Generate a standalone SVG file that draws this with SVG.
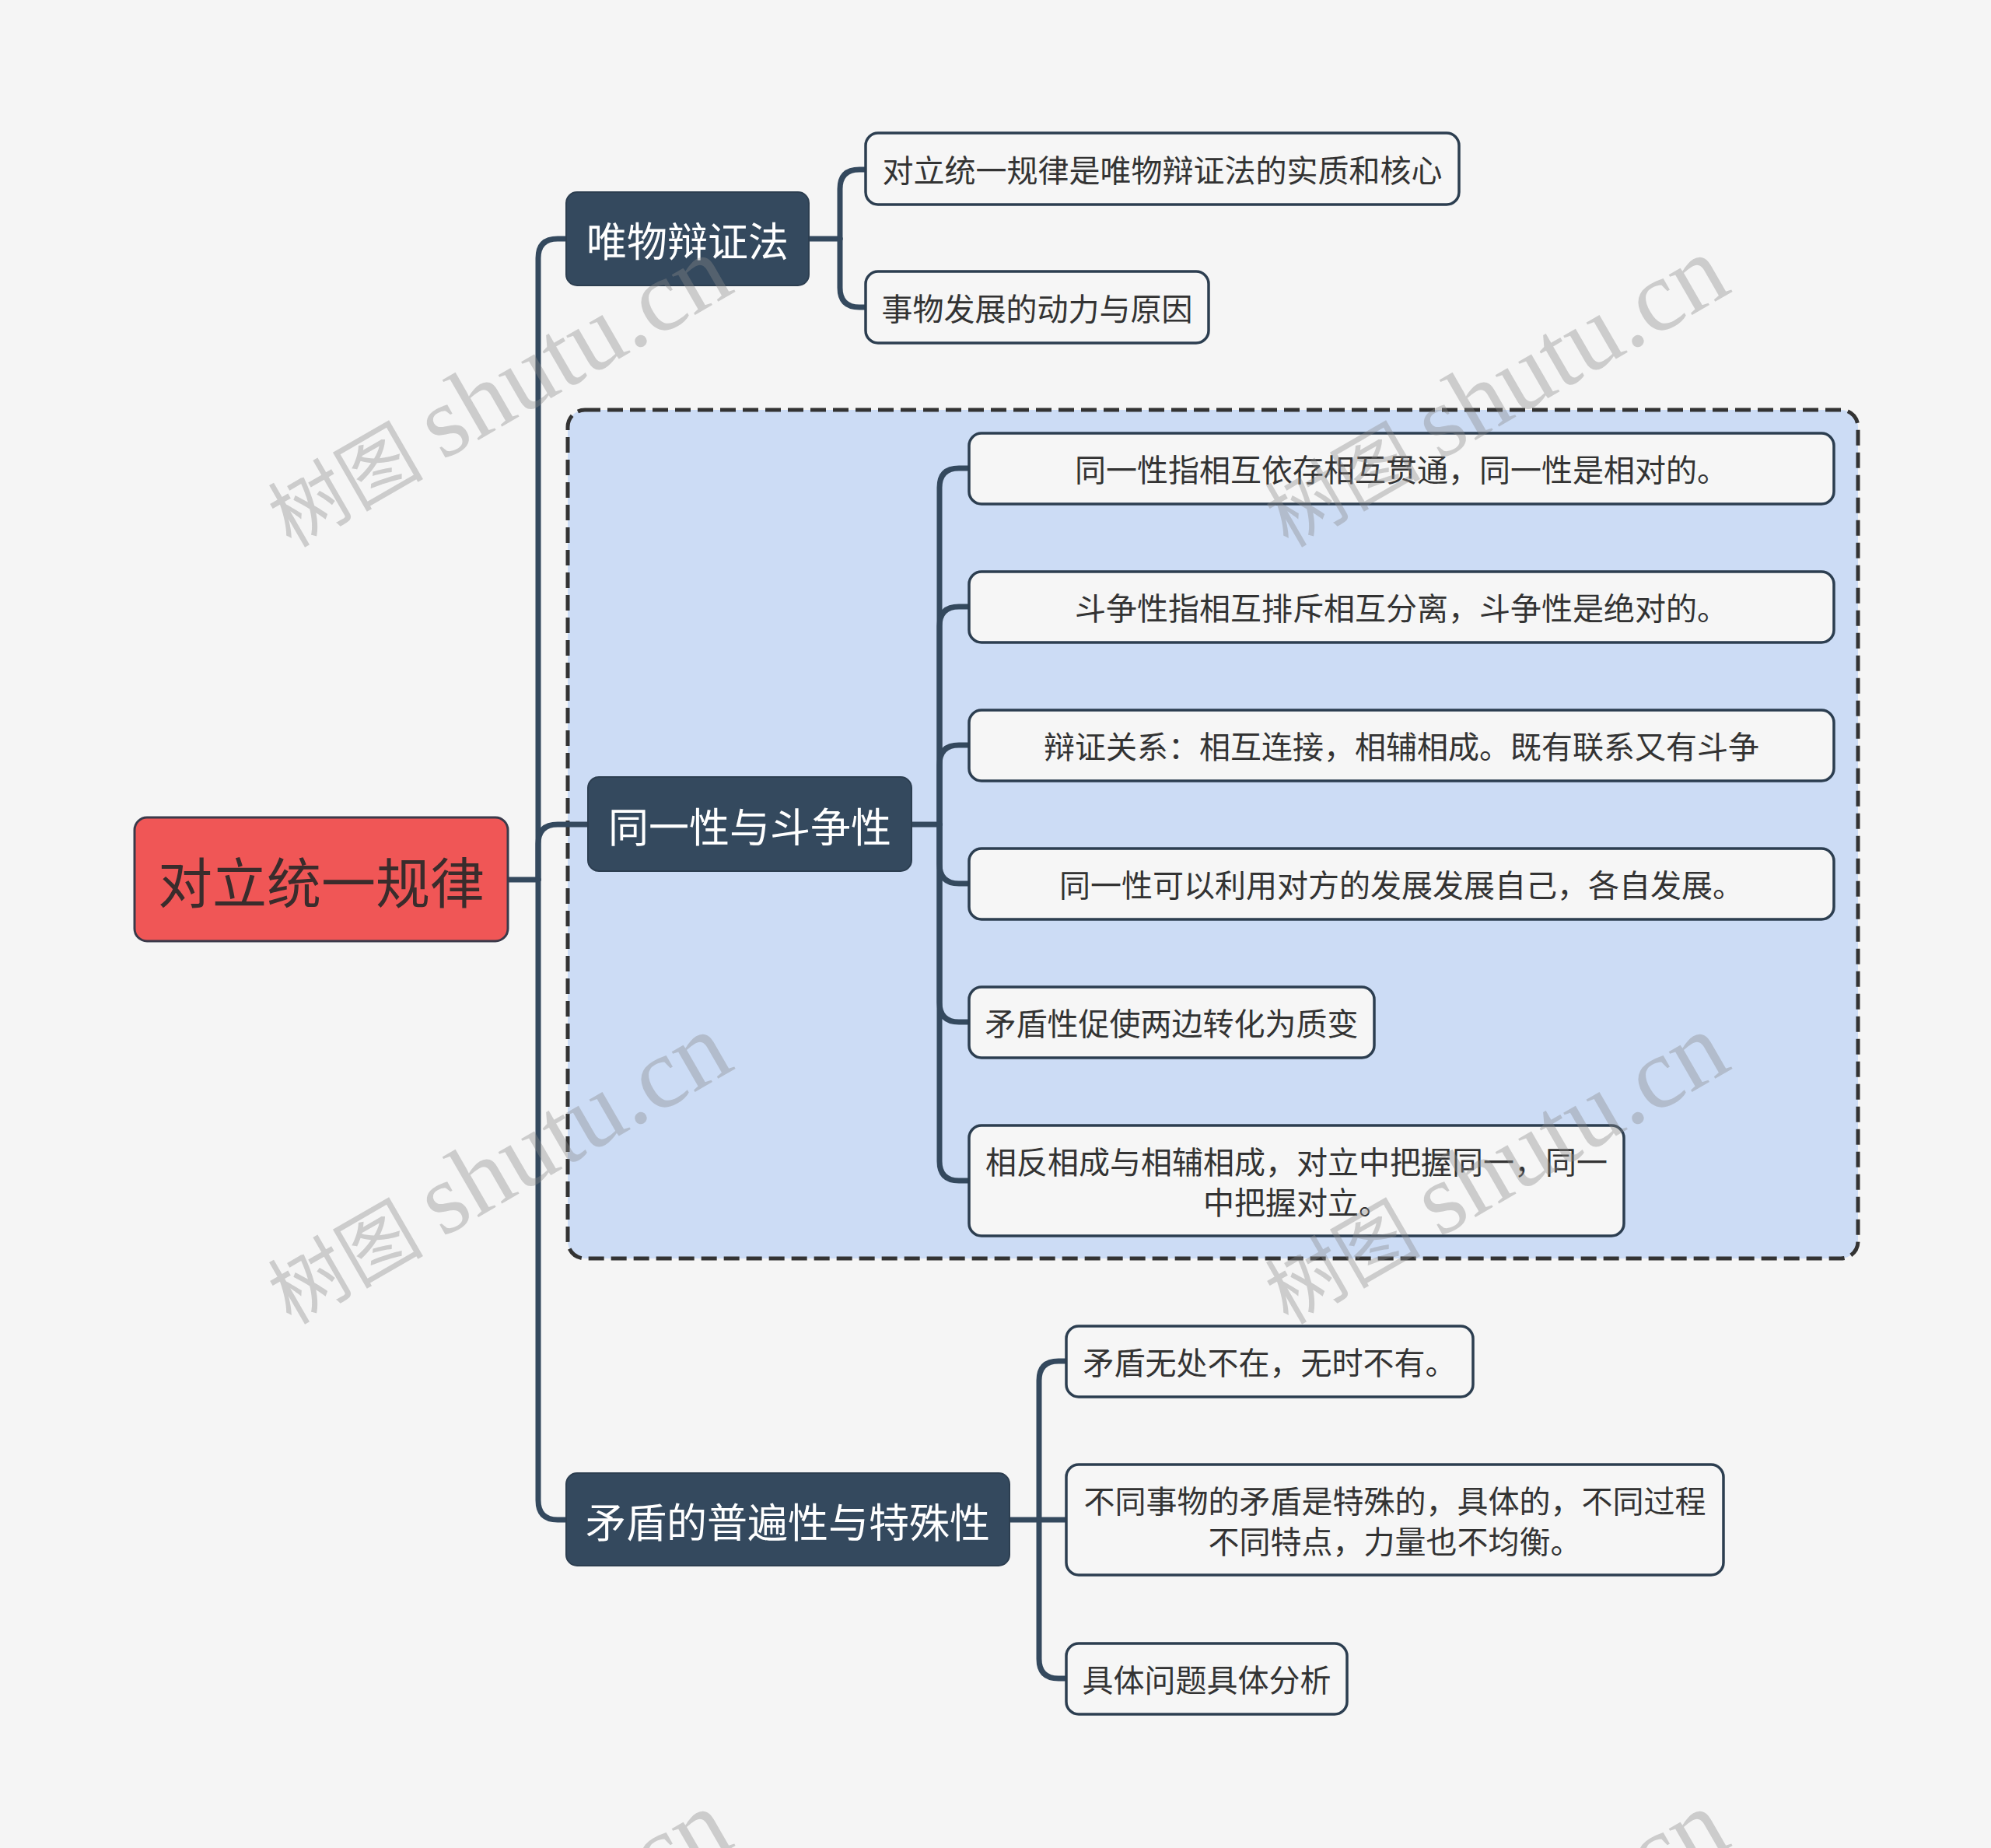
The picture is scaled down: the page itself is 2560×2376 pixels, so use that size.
<svg xmlns="http://www.w3.org/2000/svg" width="2560" height="2376" viewBox="0 0 2560 2376">
<style>
.bg{fill:#f5f5f5}
.conn{fill:none;stroke:#34495e;stroke-width:7;stroke-linecap:round;stroke-linejoin:round}
.root{fill:#f05656;stroke:#3a3a4a;stroke-width:3}
.l1{fill:#34495e;stroke:#2c3e50;stroke-width:2}
.leaf{fill:#f6f6f6;stroke:#2c3e50;stroke-width:3.5}
.group{fill:#ccdcf5;stroke:#333333;stroke-width:5;stroke-dasharray:20 9}
text{font-family:"Noto Sans CJK SC","Noto Sans",sans-serif;text-anchor:middle;dominant-baseline:central}
.troot{font-size:70px;fill:#3a2c2c}
.tl1{font-size:52px;fill:#ffffff}
.tleaf{font-size:40px;fill:#333333}
.wm{font-family:"Liberation Serif","Noto Sans CJK SC",serif;font-size:100px;fill:#8a8a8a;fill-opacity:0.38;text-anchor:start;dominant-baseline:alphabetic}
</style>
<rect class="bg" x="0" y="0" width="2560" height="2376"/>

<g id="group-box">
<rect class="group" x="730" y="527" width="1659" height="1091" rx="22"/>
</g>

<g id="connectors">
<path class="conn" d="M653 1131 H692"/>
<path class="conn" d="M692 1131 V332 Q692 307 717 307 H728"/>
<path class="conn" d="M692 1131 V1085 Q692 1060 717 1060 H756"/>
<path class="conn" d="M692 1131 V1929 Q692 1954 717 1954 H728"/>

<path class="conn" d="M1040 307 H1080"/>
<path class="conn" d="M1080 307 V243 Q1080 218 1105 218 H1113"/>
<path class="conn" d="M1080 307 V370 Q1080 395 1105 395 H1113"/>

<path class="conn" d="M1172 1060 H1208"/>
<path class="conn" d="M1208 1060 V627 Q1208 602 1233 602 H1246"/>
<path class="conn" d="M1208 1060 V805 Q1208 780 1233 780 H1246"/>
<path class="conn" d="M1208 1060 V983 Q1208 958 1233 958 H1246"/>
<path class="conn" d="M1208 1060 V1111 Q1208 1136 1233 1136 H1246"/>
<path class="conn" d="M1208 1060 V1289 Q1208 1314 1233 1314 H1246"/>
<path class="conn" d="M1208 1060 V1493 Q1208 1518 1233 1518 H1246"/>

<path class="conn" d="M1298 1954 H1371"/>
<path class="conn" d="M1336 1954 V1775 Q1336 1750 1361 1750 H1371"/>
<path class="conn" d="M1336 1954 V2133 Q1336 2158 1361 2158 H1371"/>
</g>

<g id="root">
<rect class="root" x="173" y="1051" width="480" height="159" rx="16"/>
<text class="troot" x="413" y="1131">对立统一规律</text>
</g>

<g id="n-weiwu">
<rect class="l1" x="728" y="247" width="312" height="120" rx="14"/>
<text class="tl1" x="884" y="307">唯物辩证法</text>
</g>
<g id="n-tongyi">
<rect class="l1" x="756" y="999" width="416" height="121" rx="14"/>
<text class="tl1" x="964" y="1060">同一性与斗争性</text>
</g>
<g id="n-maodun">
<rect class="l1" x="728" y="1894" width="570" height="119" rx="14"/>
<text class="tl1" x="1013" y="1954">矛盾的普遍性与特殊性</text>
</g>

<g id="leaf-1">
<rect class="leaf" x="1113" y="171" width="763" height="92" rx="16"/>
<text class="tleaf" x="1494.5" y="217">对立统一规律是唯物辩证法的实质和核心</text>
</g>
<g id="leaf-2">
<rect class="leaf" x="1113" y="349" width="441" height="92" rx="16"/>
<text class="tleaf" x="1333.5" y="395">事物发展的动力与原因</text>
</g>

<g id="leaf-3">
<rect class="leaf" x="1246" y="557" width="1112" height="91" rx="16"/>
<text class="tleaf" x="1802" y="602">同一性指相互依存相互贯通，同一性是相对的。</text>
</g>
<g id="leaf-4">
<rect class="leaf" x="1246" y="735" width="1112" height="91" rx="16"/>
<text class="tleaf" x="1802" y="780">斗争性指相互排斥相互分离，斗争性是绝对的。</text>
</g>
<g id="leaf-5">
<rect class="leaf" x="1246" y="913" width="1112" height="91" rx="16"/>
<text class="tleaf" x="1802" y="958">辩证关系：相互连接，相辅相成。既有联系又有斗争</text>
</g>
<g id="leaf-6">
<rect class="leaf" x="1246" y="1091" width="1112" height="91" rx="16"/>
<text class="tleaf" x="1802" y="1136">同一性可以利用对方的发展发展自己，各自发展。</text>
</g>
<g id="leaf-7">
<rect class="leaf" x="1246" y="1269" width="521" height="91" rx="16"/>
<text class="tleaf" x="1506.5" y="1314">矛盾性促使两边转化为质变</text>
</g>
<g id="leaf-8">
<rect class="leaf" x="1246" y="1447" width="842" height="142" rx="16"/>
<text class="tleaf" x="1667" y="1492">相反相成与相辅相成，对立中把握同一，同一</text>
<text class="tleaf" x="1667" y="1544">中把握对立。</text>
</g>

<g id="leaf-9">
<rect class="leaf" x="1371" y="1705" width="523" height="91" rx="16"/>
<text class="tleaf" x="1632.5" y="1750">矛盾无处不在，无时不有。</text>
</g>
<g id="leaf-10">
<rect class="leaf" x="1371" y="1883" width="845" height="142" rx="16"/>
<text class="tleaf" x="1793.5" y="1928">不同事物的矛盾是特殊的，具体的，不同过程</text>
<text class="tleaf" x="1793.5" y="1980">不同特点，力量也不均衡。</text>
</g>
<g id="leaf-11">
<rect class="leaf" x="1371" y="2113" width="361" height="91" rx="16"/>
<text class="tleaf" x="1551.5" y="2158">具体问题具体分析</text>
</g>

<g id="watermarks">
<text class="wm" transform="translate(374 705) rotate(-30)">树图 <tspan font-size="130">shutu.cn</tspan></text>
<text class="wm" transform="translate(1656 705) rotate(-30)">树图 <tspan font-size="130">shutu.cn</tspan></text>
<text class="wm" transform="translate(374 1704) rotate(-30)">树图 <tspan font-size="130">shutu.cn</tspan></text>
<text class="wm" transform="translate(1656 1704) rotate(-30)">树图 <tspan font-size="130">shutu.cn</tspan></text>
<text class="wm" transform="translate(374 2703) rotate(-30)">树图 <tspan font-size="130">shutu.cn</tspan></text>
<text class="wm" transform="translate(1656 2703) rotate(-30)">树图 <tspan font-size="130">shutu.cn</tspan></text>
</g>
</svg>
